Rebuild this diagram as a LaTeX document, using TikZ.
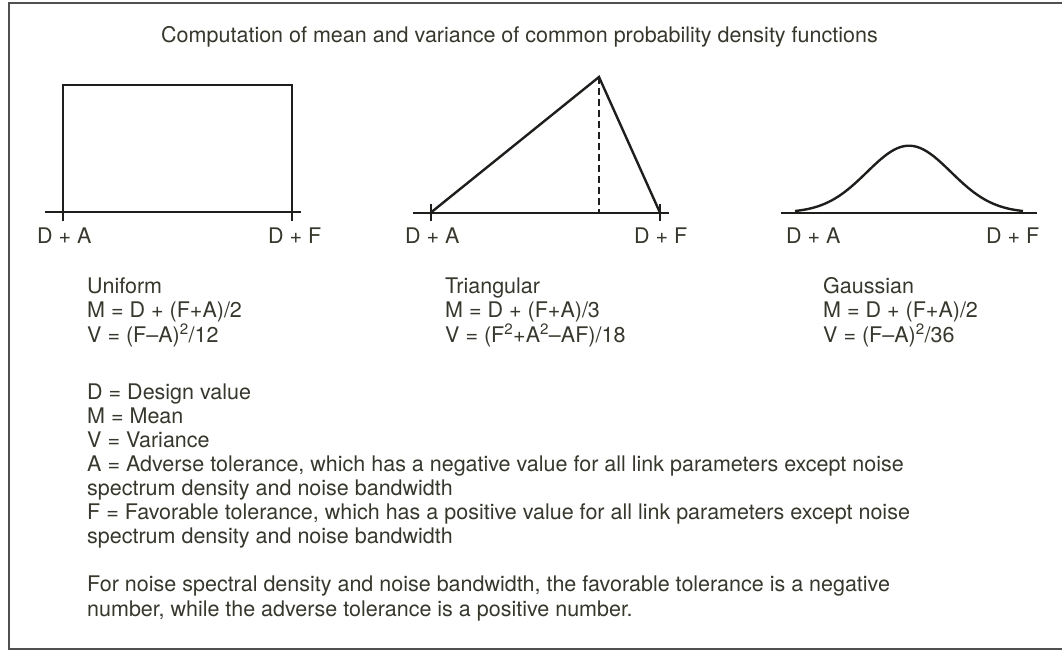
\documentclass[tikz,border=0pt]{standalone}
\usepackage{fontspec}
\setmainfont{TeX Gyre Heros}
\usepackage{tikz}
\usetikzlibrary{positioning,calc}
\definecolor{ink}{RGB}{30,30,28}
\definecolor{txtc}{RGB}{55,55,45}
\definecolor{frmc}{RGB}{80,80,80}
\newcommand{\sq}{\textsuperscript{2}}
\tikzset{
  crv/.style={draw=ink,line width=2.4pt},
  frm/.style={draw=frmc,line width=2pt},
  dsh/.style={draw=ink,line width=2.4pt,dash pattern=on 7pt off 4pt},
  lbl/.style={font=\fontsize{21.5}{24.1}\selectfont,text=txtc,inner sep=0pt,anchor=base west},
  blk/.style={lbl,align=left},
}
\begin{document}
\begin{tikzpicture}[x=1pt,y=-1pt]
 \useasboundingbox (0,0) rectangle (1062,650);
 \draw[frm] (9,3.5) rectangle (1070,649);
 \node[lbl] (title) at (161,43) {Computation of mean and variance of common probability density functions};
 % uniform
 \coordinate (ua) at (63,212);
 \coordinate (uf) at (292,212);
 \draw[crv] (45,212) -- (301,212);
 \draw[crv] ($(ua)+(0,9)$) -- (63,85) -- (292,85) -- ($(uf)+(0,9)$);
 \node[lbl] (uA) at (37,243) {D + A};
 \node[lbl] (uF) at (268,243) {D + F};
 % triangular
 \coordinate (ta) at (430.7,212.7);
 \coordinate (tf) at (660,212.7);
 \coordinate (tp) at (599,77);
 \draw[crv] (413,212.7) -- (669,212.7);
 \draw[crv] ($(ta)+(0,-9)$) -- ($(ta)+(0,8)$);
 \draw[crv] ($(tf)+(0,-9)$) -- ($(tf)+(0,8)$);
 \draw[crv,line join=miter] (ta) -- (tp) -- (tf);
 \draw[dsh] (tp) -- (tp |- ta);
 \node[lbl] (tA) at (405,243) {D + A};
 \node[lbl] (tF) at (634,243) {D + F};
 % gaussian
 \draw[crv] (781,212.7) -- (1037,212.7);
 \draw[crv,smooth] plot[domain=795:1023,samples=70] (\x,{212.7-67*exp(-((\x-909)^2)/3528)});
 \node[lbl] (gA) at (786,243) {D + A};
 \node[lbl] (gF) at (986,243) {D + F};
 % formulas (base = last line)
 \node[blk] (uni) at (87,342) {Uniform\\M = D + (F+A)/2\\V = (F--A)\sq/12};
 \node[blk] (tri) at (445,342) {Triangular\\M = D + (F+A)/3\\V = (F\sq+A\sq--AF)/18};
 \node[blk] (gau) at (823,342) {Gaussian\\M = D + (F+A)/2\\V = (F--A)\sq/36};
 % legend
 \node[blk] (leg) at (87,616) {D = Design value\\M = Mean\\V = Variance\\
  A = Adverse tolerance, which has a negative value for all link parameters except noise\\
  spectrum density and noise bandwidth\\
  F = Favorable tolerance, which has a positive value for all link parameters except noise\\
  spectrum density and noise bandwidth\\[24.1pt]
  For noise spectral density and noise bandwidth, the favorable tolerance is a negative\\
  number, while the adverse tolerance is a positive number.};
\end{tikzpicture}
\end{document}
